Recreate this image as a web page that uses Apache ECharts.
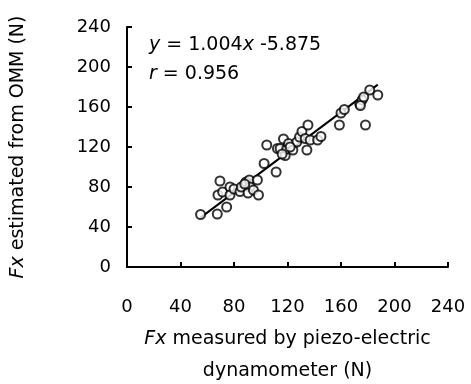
<!DOCTYPE html>
<html>
<head>
<meta charset="utf-8">
<script src="https://cdn.jsdelivr.net/npm/echarts@6/dist/echarts.min.js"></script>
<style>
  html, body { margin: 0; padding: 0; background: #fff; }
  #chart { width: 471px; height: 384px; }
</style>
</head>
<body>
<div id="chart"></div>
<script>
// measured (x) vs estimated (y) Fx
const measured = [55, 67.5, 74.5, 69.5, 68, 71.5, 77, 77, 80, 84.5, 85.5, 89, 91.5, 92, 90.5, 94.5, 97.5, 98.3,
  102.5, 104.5, 111.5, 112.5, 114.5, 117, 118.3, 119.5, 120.8, 124, 127, 129, 130.8, 133.3, 134.5, 135.3, 137,
  142.5, 145, 158.8, 160, 162.5, 178.3, 174, 175.8, 174.5, 181.5, 177, 187.5, 88, 116, 122];
const estimated = [52.5, 53, 60, 86, 72, 75, 80, 72, 78, 75.5, 80, 85, 87, 80, 74, 77, 87, 72,
  103.5, 122, 95, 118.5, 118.5, 128, 111.5, 118, 123.5, 117, 125, 130, 135.5, 128.5, 117, 142, 127,
  127, 130.5, 142, 154, 157.5, 142, 163, 167, 161.5, 177, 170, 172, 83, 113, 120];
const xTicks = [0, 40, 80, 120, 160, 200, 240];
const yTicks = [0, 40, 80, 120, 160, 200, 240];
const slope = 1.004;
const intercept = -5.875;

const points = measured.map((x, i) => [x, estimated[i]]);
const xMin = Math.min(...measured), xMax = Math.max(...measured);
const fitLine = [[xMin, slope * xMin + intercept], [xMax, slope * xMax + intercept]];

const font = "'DejaVu Sans', Arial, sans-serif";
const italic = { fontStyle: "italic", fontSize: 19, fontFamily: font, color: "#000" };
const chart = echarts.init(document.getElementById("chart"));

chart.setOption({
  animation: false,
  grid: { left: 127, right: 23, top: 27, bottom: 117, outerBoundsMode: "none", containLabel: false },
  xAxis: {
    type: "value",
    min: xTicks[0], max: xTicks[xTicks.length - 1], interval: 40,
    axisLine: { show: true, lineStyle: { color: "#000", width: 2 } },
    axisTick: { show: true, inside: true, length: 5, lineStyle: { color: "#000", width: 2 } },
    splitLine: { show: false },
    axisLabel: { color: "#000", fontSize: 18, fontFamily: font, margin: 31 },
    name: "{i|Fx} measured by piezo-electric\ndynamometer (N)",
    nameLocation: "middle",
    nameGap: 56,
    nameTextStyle: {
      color: "#000", fontSize: 19, fontFamily: font, lineHeight: 32,
      rich: { i: Object.assign({ lineHeight: 32 }, italic) }
    }
  },
  yAxis: {
    type: "value",
    min: yTicks[0], max: yTicks[yTicks.length - 1], interval: 40,
    axisLine: { show: true, lineStyle: { color: "#000", width: 2 } },
    axisTick: { show: true, inside: true, length: 5, lineStyle: { color: "#000", width: 2 } },
    splitLine: { show: false },
    axisLabel: { color: "#000", fontSize: 18, fontFamily: font, margin: 16 },
    name: "{i|Fx} estimated from OMM (N)",
    nameLocation: "middle",
    nameRotate: 90,
    nameGap: 99,
    nameTextStyle: {
      color: "#000", fontSize: 19, fontFamily: font,
      rich: { i: italic }
    }
  },
  graphic: [
    {
      type: "text", left: 149, top: 36,
      style: {
        text: "{i|y} = 1.004{i|x} -5.875",
        font: "19px " + font, fill: "#000",
        rich: { i: { fontStyle: "italic", fontSize: 19, fontFamily: font, fill: "#000" } }
      }
    },
    {
      type: "text", left: 149, top: 65,
      style: {
        text: "{i|r} = 0.956",
        font: "19px " + font, fill: "#000",
        rich: { i: { fontStyle: "italic", fontSize: 19, fontFamily: font, fill: "#000" } }
      }
    }
  ],
  series: [
    {
      type: "line",
      data: fitLine,
      symbol: "none",
      lineStyle: { color: "#000", width: 2 },
      z: 1
    },
    {
      type: "scatter",
      data: points,
      symbol: "circle",
      symbolSize: 9,
      itemStyle: { color: "#fff", borderColor: "#000", borderWidth: 2 },
      z: 2
    }
  ]
});
</script>
</body>
</html>
